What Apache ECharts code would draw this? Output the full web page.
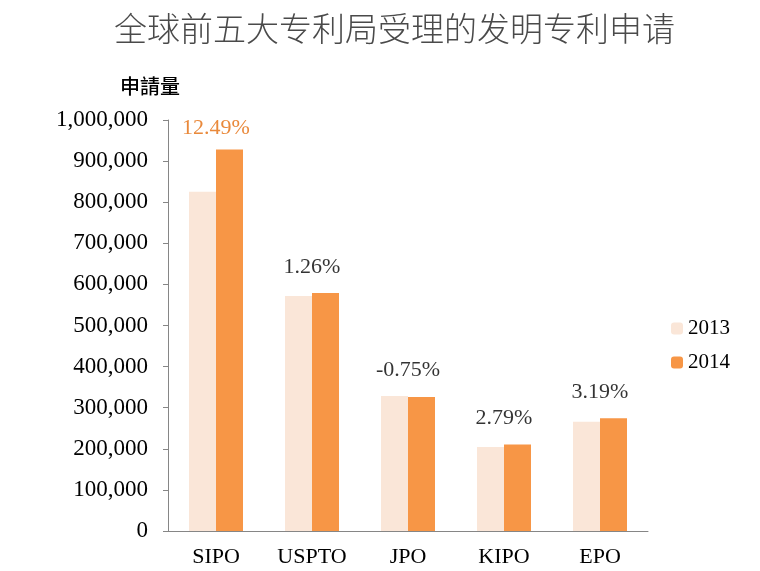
<!DOCTYPE html>
<html>
<head>
<meta charset="utf-8">
<script src="https://cdn.jsdelivr.net/npm/echarts@6/dist/echarts.min.js"></script>
<style>
    html, body { margin: 0; padding: 0; background: #fff; }
    #chart { width: 760px; height: 571px; }
</style>
</head>
<body>
<div id="chart"></div>
<script>
    // 数据
    var offices = ['SIPO', 'USPTO', 'JPO', 'KIPO', 'EPO'];
    var apps2013 = [825136, 571612, 328436, 204589, 265690];
    var apps2014 = [928177, 578802, 325989, 210292, 274174];
    var growthLabels = ['12.49%', '1.26%', '-0.75%', '2.79%', '3.19%'];

    var serif = '"Liberation Serif", "DejaVu Serif", serif';
    var axisGray = '#868686';

    // 标签放在两根柱子中较高的那根上方
    var labelData = offices.map(function(name, i) {
        return {
            value: Math.max(apps2013[i], apps2014[i]),
            label: {
                formatter: growthLabels[i],
                color: i === 0 ? '#E46C0A' : '#000',
                distance: i === 0 ? 10 : 15
            }
        };
    });

    var dom = document.getElementById('chart');
    var myChart = echarts.init(dom);
    var option = {
        animation: false,
        title: {
            text: '全球前五大专利局受理的发明专利申请',
            left: 109,
            top: 7,
            textStyle: {
                fontFamily: '"Noto Sans CJK SC", sans-serif',
                fontWeight: 300,
                fontSize: 33,
                color: '#4a4a4a'
            }
        },
        legend: {
            orient: 'vertical',
            left: 666,
            top: 313,
            itemWidth: 12,
            itemHeight: 12,
            itemGap: 13,
            data: ['2013', '2014'],
            textStyle: { fontFamily: serif, fontSize: 21, color: '#000' }
        },
        grid: {
            left: 168,
            right: 112,
            top: 120,
            bottom: 40
        },
        xAxis: {
            type: 'category',
            data: offices,
            axisLine: { lineStyle: { color: axisGray } },
            axisTick: { length: 6, lineStyle: { color: axisGray } },
            axisLabel: {
                fontFamily: serif,
                fontSize: 22,
                color: '#000',
                margin: 15
            }
        },
        yAxis: {
            type: 'value',
            min: 0,
            max: 1000000,
            interval: 100000,
            name: '申請量',
            nameLocation: 'end',
            nameGap: 24,
            nameTextStyle: {
                fontFamily: '"Noto Sans CJK SC", sans-serif',
                fontWeight: 500,
                fontSize: 20,
                color: '#000',
                padding: [0, 36, 0, 0]
            },
            axisLine: { show: true, lineStyle: { color: axisGray } },
            axisTick: { show: true, length: 5, lineStyle: { color: axisGray } },
            splitLine: { show: false },
            axisLabel: {
                fontFamily: serif,
                fontSize: 23,
                color: '#000',
                margin: 20,
                formatter: function(v) { return v.toLocaleString('en-US'); }
            }
        },
        series: [
            {
                name: '2013',
                type: 'bar',
                data: apps2013,
                barWidth: 27,
                barGap: '0%',
                itemStyle: { color: '#FAE6D8' }
            },
            {
                name: '2014',
                type: 'bar',
                data: apps2014,
                barWidth: 27,
                itemStyle: { color: '#F79646' }
            },
            {
                name: 'growth',
                type: 'scatter',
                data: labelData,
                symbolSize: 0,
                silent: true,
                label: {
                    show: true,
                    position: 'top',
                    fontFamily: serif,
                    fontSize: 22
                }
            }
        ]
    };
    if (option && typeof option === 'object') {
        myChart.setOption(option, true);
    }
</script>
</body>
</html>
